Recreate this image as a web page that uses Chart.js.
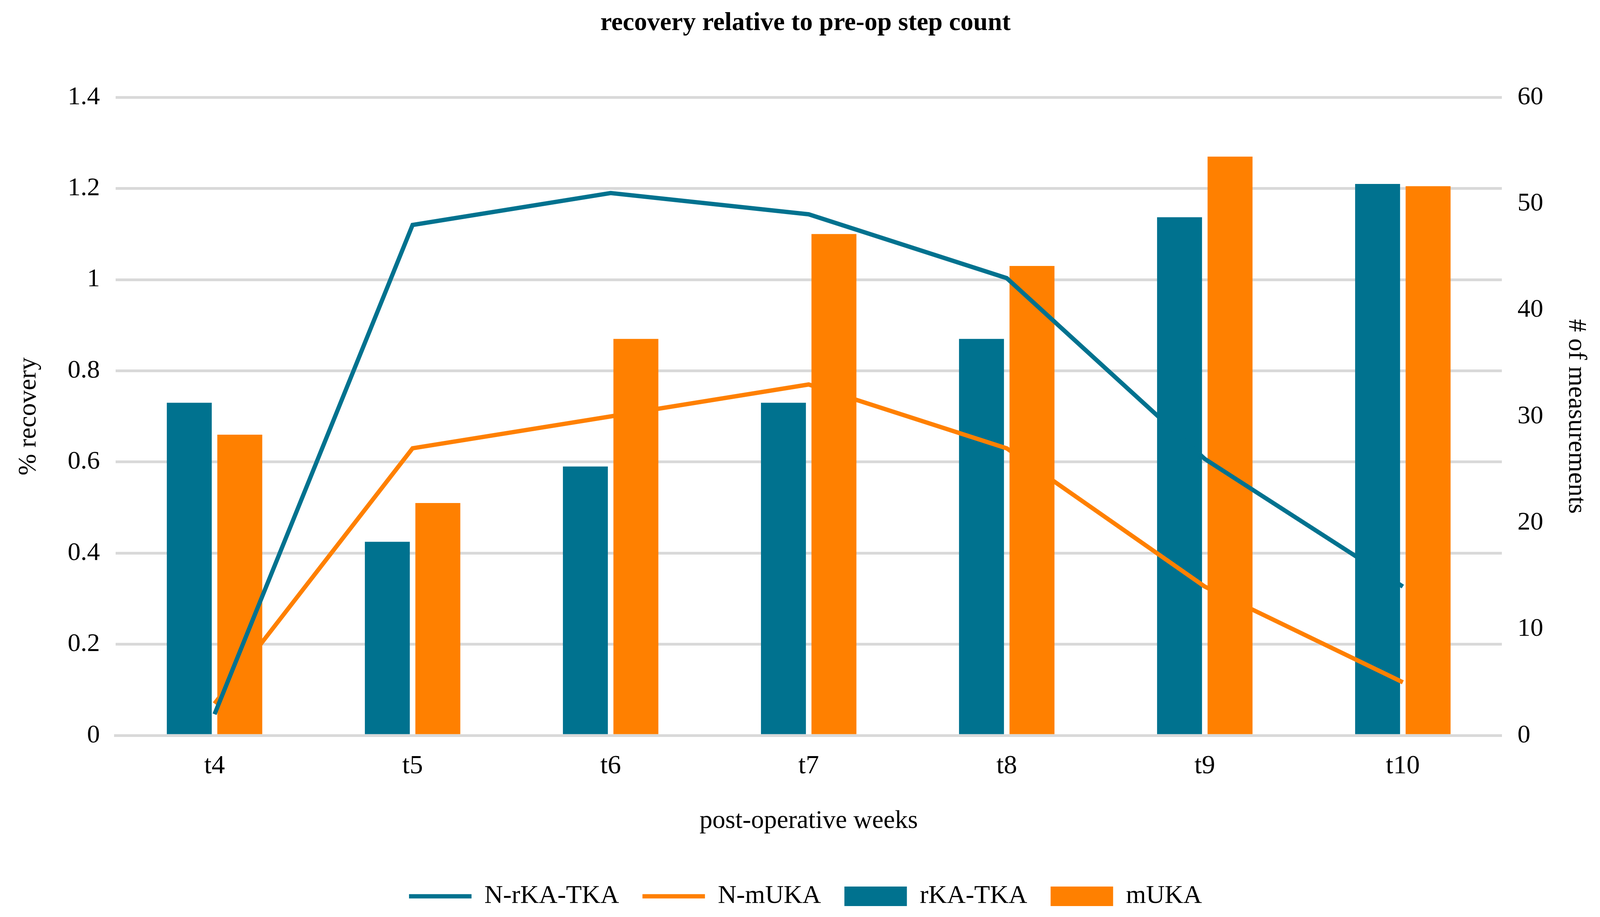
<!DOCTYPE html>
<html>
<head>
<meta charset="utf-8">
<script src="https://cdn.jsdelivr.net/npm/chart.js@4/dist/chart.umd.min.js"></script>
<style>
  html, body { margin: 0; padding: 0; background: #fff; }
  #wrap { width: 4124px; height: 2348px; }
</style>
</head>
<body>
<div id="wrap"><canvas id="my-chart" width="4124" height="2348"></canvas></div>
<script>
const weeks = ["t4", "t5", "t6", "t7", "t8", "t9", "t10"];
const recoveryRKA = [0.73, 0.425, 0.59, 0.73, 0.87, 1.137, 1.21];
const recoveryMUKA = [0.66, 0.51, 0.87, 1.10, 1.03, 1.27, 1.205];
const countRKA = [2, 48, 51, 49, 43, 26, 14];
const countMUKA = [3, 27, 30, 33, 27, 14, 5];

const teal = "#00728F";
const orange = "#FF8000";
const font = "Liberation Serif";
const grid = "#d9d9d9";

const ctx = document.getElementById("my-chart").getContext("2d");
new Chart(ctx, {
  data: {
    labels: weeks,
    datasets: [
      { type: "bar", label: "rKA-TKA", data: recoveryRKA, backgroundColor: teal, yAxisID: "y", order: 2, pointStyle: "rect",
        barPercentage: 0.89, categoryPercentage: 0.51 },
      { type: "bar", label: "mUKA", data: recoveryMUKA, backgroundColor: orange, yAxisID: "y", order: 2, pointStyle: "rect",
        barPercentage: 0.89, categoryPercentage: 0.51 },
      { type: "line", label: "N-rKA-TKA", data: countRKA, borderColor: teal, backgroundColor: teal, borderWidth: 11,
        pointRadius: 0, pointStyle: "line", yAxisID: "y1", order: 1 },
      { type: "line", label: "N-mUKA", data: countMUKA, borderColor: orange, backgroundColor: orange, borderWidth: 11,
        pointRadius: 0, pointStyle: "line", yAxisID: "y1", order: 1 },
    ],
  },
  options: {
    responsive: false,
    devicePixelRatio: 1,
    animation: false,
    layout: { padding: { left: 30, right: 30, top: 10, bottom: 10 } },
    plugins: {
      title: { display: true, text: "recovery relative to pre-op step count", color: "#000",
        font: { family: font, size: 66 }, padding: { top: 10, bottom: 150 } },
      legend: {
        position: "bottom",
        labels: { color: "#000", font: { family: font, size: 66 }, usePointStyle: true,
          pointStyleWidth: 160, boxHeight: 50, padding: 60 },
      },
      tooltip: { enabled: false },
    },
    scales: {
      x: {
        grid: { display: false },
        border: { color: grid, width: 7 },
        ticks: { color: "#000", font: { family: font, size: 68 }, padding: 30 },
        title: { display: true, text: "post-operative weeks", color: "#000", font: { family: font, size: 66 }, padding: { top: 30, bottom: 60 } },
      },
      y: {
        position: "left", min: 0, max: 1.4,
        ticks: { stepSize: 0.2, color: "#000", font: { family: font, size: 66 }, padding: 40,
          callback: (v) => String(Math.round(v * 10) / 10) },
        grid: { color: grid, lineWidth: 7, drawTicks: false },
        border: { display: false },
        title: { display: true, text: "% recovery", color: "#000", font: { family: font, size: 66 }, padding: { bottom: 20 } },
      },
      y1: {
        position: "right", min: 0, max: 60,
        ticks: { stepSize: 10, color: "#000", font: { family: font, size: 66 }, padding: 40 },
        grid: { display: false, drawTicks: false },
        border: { display: false },
        title: { display: true, text: "# of measurements", color: "#000", font: { family: font, size: 66 }, padding: { top: 20 } },
      },
    },
  },
});
</script>
</body>
</html>
